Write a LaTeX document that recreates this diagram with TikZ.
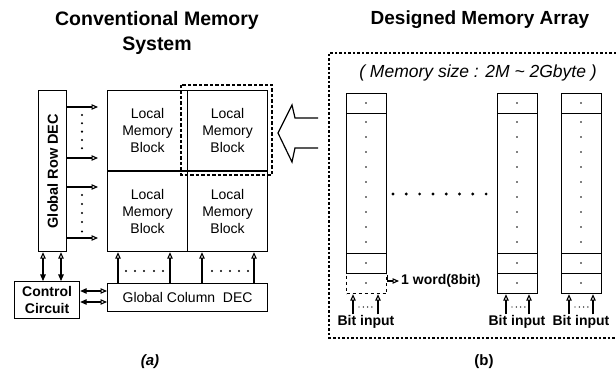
\documentclass[tikz,border=0pt]{standalone}
\usepackage{fontspec}
\setmainfont{Liberation Sans}
\usepackage{graphicx}
\usetikzlibrary{arrows.meta}
\newcommand\myfs[2]{\fontsize{#1}{#2}\selectfont}
\begin{document}
\begin{tikzpicture}[x=1pt,y=-1pt,
  lw/.style={line width=1.2pt},
  box/.style={draw, line width=1.2pt, inner sep=0pt, anchor=north west},
  arr/.style={line width=1.1pt,-{Triangle[open,length=6.5pt,width=5.5pt]}},
  dbl/.style={line width=1.1pt,{Triangle[length=6.5pt,width=5.5pt]}-{Triangle[open,length=6.5pt,width=5.5pt]}},
  blk/.style={box, minimum width=80pt, minimum height=80.5pt, align=center, font=\myfs{14}{17}},
  cell/.style={box, minimum width=40pt},
  lbl/.style={font=\bfseries\myfs{14}{17}, inner sep=1pt}
]
\useasboundingbox (0,0) rectangle (616,371);

% ---------- (a) ----------
\node[font=\bfseries\myfs{19.5}{25}, align=center] (titlea) at (157,33) {Conventional Memory\\System};

\node[box, minimum width=28pt, minimum height=161pt] (rowdec) at (38,90) {\rotatebox{90}{\bfseries\myfs{14.5}{17}Global Row DEC}};

\node[blk] (b11) at (107,90) {Local\\Memory\\Block};
\node[blk] (b12) at (187,90) {Local\\Memory\\Block};
\node[blk] (b21) at (107,170.5) {Local\\Memory\\Block};
\node[blk] (b22) at (187,170.5) {Local\\Memory\\Block};

\draw[line width=1.8pt, dash pattern=on 3.5pt off 2pt] (181,85) rectangle (272,175);

\node[box, minimum width=160pt, minimum height=28pt, font=\myfs{14}{17}] (coldec) at (107,283) {Global Column~~DEC};
\node[box, minimum width=65pt, minimum height=37pt, align=center, font=\bfseries\myfs{14}{17}] (ctrl) at (14,281) {Control\\Circuit};

\foreach \y in {107,158,187,238}
  \draw[arr, shorten >=9pt] (rowdec.east |- 0,\y) -- (b11.west |- 0,\y);
\foreach \y in {115,123.3,131.6,140,148.3,195,204,213,222,231.5}
  \fill (82,\y) circle (1.2pt);

\foreach \x in {118,170,202,254}
  \draw[arr] (coldec.north -| \x,0) -- (b21.south -| \x,0);
\foreach \x in {126,135,144,154,163,212,221,230,239,248}
  \fill (\x,271) circle (1.1pt);

\foreach \x in {43,61}
  \draw[dbl] (ctrl.north -| \x,0) -- (rowdec.south -| \x,0);
\foreach \y in {291,302}
  \draw[dbl] (ctrl.east |- 0,\y) -- (coldec.west |- 0,\y);

\node[font=\bfseries\itshape\myfs{15}{18}] (capa) at (150,362) {(a)};

% hollow arrow
\draw[lw, line join=miter] (318,118) -- (295,118) -- (292,105) -- (278,133) -- (292,162) -- (295,148) -- (318,148);

% ---------- (b) ----------
\node[font=\bfseries\myfs{19}{22}] (titleb) at (480,20) {Designed Memory Array};
\draw[line width=1.6pt, dash pattern=on 2.5pt off 2pt] (616,53) -- (329,53) -- (329,338) -- (616,338);
\node[font=\itshape\myfs{17.5}{20}] (msize) at (478,73) {( Memory size : 2M \textasciitilde\ 2Gbyte )};

\foreach \n/\x in {1/346,2/497,3/561} {
  \node[cell, minimum height=20pt] (c\n-t) at (\x,93) {};
  \node[cell, minimum height=140pt] (c\n-m) at (\x,113) {};
  \node[cell, minimum height=20pt] (c\n-a) at (\x,253) {};
}
\node[cell, minimum height=20pt, dashed] (c1-w) at (346,273) {};
\node[cell, minimum height=20pt] (c2-w) at (497,273) {};
\node[cell, minimum height=20pt] (c3-w) at (561,273) {};

\foreach \x in {366,517,581} {
  \foreach \y in {103,122,137,152,167,182,197,212,227,242,263,283}
    \fill (\x,\y) circle (0.9pt);
}
\foreach \i in {0,...,7}
  \fill (393+\i*13.3,194) circle (1.6pt);

\node[anchor=west, inner sep=2pt, font=\bfseries\myfs{14}{17}] (word) at (399,281) {1 word(8bit)};
\draw[arr] (c1-w.east |- 0,275) |- (word.west);

\node[lbl] (bit1) at (366,322) {Bit input};
\node[lbl] (bit2) at (517,322) {Bit input};
\node[lbl] (bit3) at (581,322) {Bit input};
\foreach \n/\xa/\xb in {1/353/378,2/506/529,3/569/593} {
  \draw[arr] (bit\n.north -| \xa,0) -- (c\n-w.south -| \xa,0);
  \draw[arr] (bit\n.north -| \xb,0) -- (c\n-w.south -| \xb,0);
  \foreach \k in {0,...,3}
    \fill (\xa+6+\k*4.3,307) circle (0.7pt);
}

\node[font=\bfseries\myfs{15}{18}] (capb) at (484,362) {(b)};
\end{tikzpicture}
\end{document}
